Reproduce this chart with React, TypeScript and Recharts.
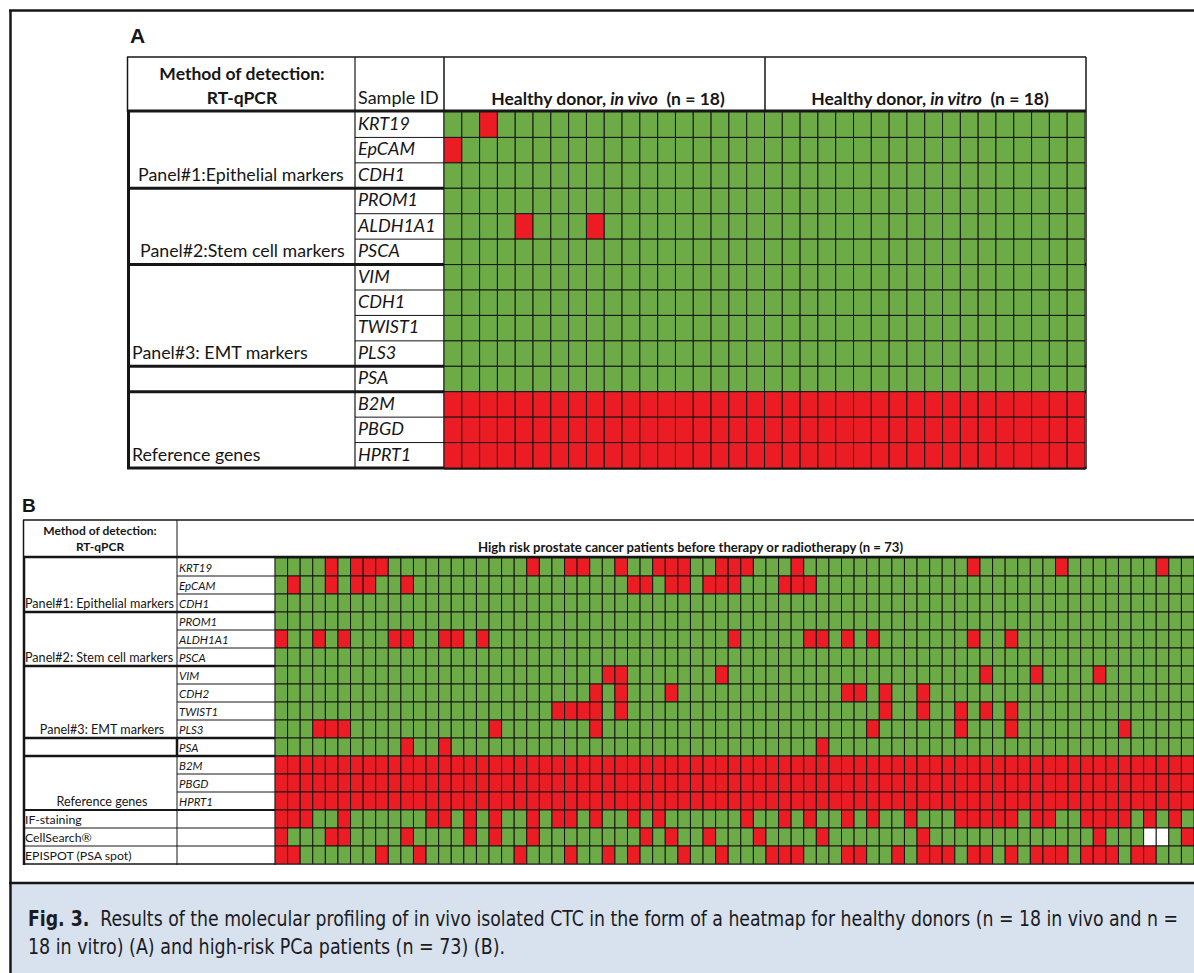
import React from 'react';
import { ReferenceLine, Scatter, ScatterChart, XAxis, YAxis } from 'recharts';

// ---- panel A: healthy donors (18 in vivo + 18 in vitro) ----
const donorsA = 36;
const genesA = ['KRT19', 'EpCAM', 'CDH1', 'PROM1', 'ALDH1A1', 'PSCA', 'VIM', 'CDH1', 'TWIST1', 'PLS3', 'PSA', 'B2M', 'PBGD', 'HPRT1'];
const groupsA = ['Panel#1:Epithelial markers', 'Panel#2:Stem cell markers', 'Panel#3: EMT markers', 'Reference genes'];
// positive (red) donors per gene row, 1-based; 'all' = every sample
const positivesA: (number[] | 'all')[] = [[3], [1], [], [], [5, 9], [], [], [], [], [], [], 'all', 'all', 'all'];

// ---- panel B: high risk PCa patients (n = 73) ----
const patientsB = 73;
const rowsB = ['KRT19', 'EpCAM', 'CDH1', 'PROM1', 'ALDH1A1', 'PSCA', 'VIM', 'CDH2', 'TWIST1', 'PLS3', 'PSA', 'B2M', 'PBGD', 'HPRT1'];
const methodsB = ['IF-staining', 'CellSearch®', 'EPISPOT (PSA spot)'];
const groupsB = ['Panel#1: Epithelial markers', 'Panel#2: Stem cell markers', 'Panel#3: EMT markers', 'Reference genes'];

const krt19B = [5, 7, 8, 9, 21, 24, 25, 28, 31, 32, 33, 36, 37, 38, 42, 56, 63, 71];
const epcamB = [2, 5, 7, 8, 11, 29, 30, 32, 33, 35, 36, 37, 41, 42, 43];
const cdh1B: number[] = [];
const prom1B: number[] = [];
const aldh1a1B = [1, 4, 6, 10, 11, 14, 15, 17, 37, 43, 44, 46, 48, 56, 59];
const pscaB: number[] = [];
const vimB = [27, 28, 36, 57, 61, 66];
const cdh2B = [26, 28, 32, 46, 47, 49, 52];
const twist1B = [23, 24, 25, 26, 28, 49, 52, 55, 57, 59];
const pls3B = [4, 5, 6, 18, 26, 48, 55, 59, 68];
const psaB = [11, 14, 44];
const ifStainingB = [1, 2, 3, 6, 13, 14, 16, 18, 21, 23, 24, 26, 29, 31, 38, 41, 43, 46, 48, 51, 55, 56, 57, 58, 59, 61, 62, 65, 66, 67, 68, 70, 72];
const cellSearchB = [1, 5, 6, 11, 16, 18, 21, 30, 32, 35, 39, 44, 52, 66, 73];
const cellSearchMissingB = [70, 71];
const epispotB = [1, 2, 9, 12, 20, 24, 27, 29, 33, 36, 40, 41, 42, 46, 47, 50, 52, 53, 54, 56, 57, 59, 61, 62, 63, 65, 66, 67, 69, 70];

const positivesB: (number[] | 'all')[] = [
  krt19B, epcamB, cdh1B, prom1B, aldh1a1B, pscaB, vimB, cdh2B, twist1B, pls3B, psaB,
  'all', 'all', 'all', ifStainingB, cellSearchB, epispotB,
];
const missingB: number[][] = [[], [], [], [], [], [], [], [], [], [], [], [], [], [], [], cellSearchMissingB, []];

const GREEN = '#6cab46';
const RED = '#ec1c24';
const INK = '#161616';
const FONT = 'Lato, "Open Sans", sans-serif';

type CellDatum = { x: number; y: number; v: number };

function buildCells(nCols: number, positives: (number[] | 'all')[], missing?: number[][]): CellDatum[] {
  const out: CellDatum[] = [];
  positives.forEach((row, r) => {
    for (let c = 1; c <= nCols; c++) {
      let v = row === 'all' || row.includes(c) ? 1 : 0;
      if (missing && missing[r].includes(c)) v = 2;
      out.push({ x: c - 0.5, y: r + 0.5, v });
    }
  });
  return out;
}

const cellsA = buildCells(donorsA, positivesA);
const cellsB = buildCells(patientsB, positivesB, missingB);

function Heatmap(props: {
  cells: CellDatum[]; cols: number; rows: number; width: number; height: number;
  thick: number[]; medium?: number[]; left: number; top: number;
}) {
  const { cells, cols, rows, width, height, thick, medium = [], left, top } = props;
  const cw = width / cols;
  const ch = height / rows;
  const m = 2;
  return (
    <div style={{ position: 'absolute', left: left - m, top: top - m }}>
      <ScatterChart width={width + 2 * m} height={height + 2 * m} margin={{ top: m, right: m, bottom: m, left: m }}>
        <XAxis type="number" dataKey="x" domain={[0, cols]} hide allowDataOverflow />
        <YAxis type="number" dataKey="y" domain={[0, rows]} reversed hide allowDataOverflow />
        <Scatter
          data={cells}
          isAnimationActive={false}
          shape={(p: any) => (
            <rect
              x={p.cx - cw / 2}
              y={p.cy - ch / 2}
              width={cw}
              height={ch}
              fill={p.payload.v === 1 ? RED : p.payload.v === 2 ? '#ffffff' : GREEN}
              stroke={INK}
              strokeWidth={1}
            />
          )}
        />
        {thick.map((t) => (
          <ReferenceLine key={'t' + t} y={t} stroke={INK} strokeWidth={3} />
        ))}
        {medium.map((t) => (
          <ReferenceLine key={'m' + t} y={t} stroke={INK} strokeWidth={2} />
        ))}
      </ScatterChart>
    </div>
  );
}

const ln = (x1: number, y1: number, x2: number, y2: number, w = 1) => (
  <line key={`${x1}-${y1}-${x2}-${y2}`} x1={x1} y1={y1} x2={x2} y2={y2} stroke={INK} strokeWidth={w} />
);

// table geometry
const A_TOP = 57, A_BOT = 469, A_L = 127, A_R = 1086, A_C1 = 355, A_C2 = 444, A_GRID_TOP = 112, A_GRID_H = 356;
const B_TOP = 520, B_BOT = 865, B_L = 23, B_R = 1196, B_C1 = 177, B_C2 = 275, B_GRID_TOP = 558, B_GRID_H = 306;
const rowA = (r: number) => A_GRID_TOP + (r * A_GRID_H) / genesA.length;
const rowB = (r: number) => B_GRID_TOP + (r * B_GRID_H) / (rowsB.length + methodsB.length);
const groupEndsA = [3, 6, 10, 11];
const groupEndsB = [3, 6, 10, 11];

function Frame() {
  const linesA: JSX.Element[] = [
    ln(A_L, A_TOP, A_R, A_TOP, 1.5), ln(A_L + 0.5, A_TOP, A_L + 0.5, A_GRID_TOP, 1.5),
    ln(A_R, A_TOP, A_R, A_BOT, 1.5), ln(A_L, A_GRID_TOP - 1, A_R, A_GRID_TOP - 1, 3),
    ln(A_L + 1.5, A_GRID_TOP, A_L + 1.5, A_BOT, 3), ln(A_L, A_BOT - 1, A_R, A_BOT - 1, 3),
    ln(A_C1, A_TOP, A_C1, A_BOT, 1.2), ln(A_C2, A_TOP, A_C2, A_BOT, 1.5), ln(765, A_TOP, 765, A_GRID_TOP, 1.5),
  ];
  for (let k = 1; k < genesA.length; k++) {
    if (groupEndsA.includes(k)) linesA.push(ln(A_L, rowA(k), A_R, rowA(k), 3));
    else linesA.push(ln(A_C1, rowA(k), A_C2, rowA(k), 1));
  }
  const nB = rowsB.length + methodsB.length;
  const linesB: JSX.Element[] = [
    ln(B_L, B_TOP, B_R, B_TOP, 1.5), ln(B_L + 0.5, B_TOP, B_L + 0.5, B_GRID_TOP, 1.5),
    ln(B_L + 1, B_GRID_TOP, B_L + 1, B_BOT, 2.5), ln(B_L, B_BOT - 1, B_R, B_BOT - 1, 1.5),
    ln(B_L, B_GRID_TOP - 1, B_R, B_GRID_TOP - 1, 2.5), ln(B_C1, B_TOP, B_C1, B_BOT, 1),
    ln(B_C2, B_GRID_TOP, B_C2, B_BOT, 1.2), ln(B_C1, rowB(10), B_C1, rowB(11), 2.5),
  ];
  for (let k = 1; k < nB; k++) {
    if (groupEndsB.includes(k)) linesB.push(ln(B_L, rowB(k), B_R, rowB(k), 2.5));
    else if (k === 14) linesB.push(ln(B_L, rowB(k), B_R, rowB(k), 1.8));
    else if (k > 14) linesB.push(ln(B_L, rowB(k), B_C2, rowB(k), 1));
    else linesB.push(ln(B_C1, rowB(k), B_C2, rowB(k), 1));
  }
  const groupRowA = [2, 5, 9, 13];
  const groupXA = [138, 140, 132, 132];
  const groupRowB = [2, 5, 9, 13];
  return (
    <svg width={1194} height={973} style={{ position: 'absolute', left: 0, top: 0 }}>
      <rect x={12} y={884} width={1182} height={89} fill="#d8e1ee" />
      {ln(9, 10.5, 1194, 10.5, 2.5)}
      {ln(10.5, 10, 10.5, 973, 2.5)}
      {ln(9, 883, 1194, 883, 2.5)}
      <text x={130} y={43} fontFamily='"Liberation Sans", Arial, sans-serif' fontWeight={700} fontSize={21} fill={INK}>A</text>
      <text x={22} y={512} fontFamily='"Liberation Sans", Arial, sans-serif' fontWeight={700} fontSize={19} fill={INK}>B</text>

      {linesA}
      <g fontFamily={FONT} fill={INK}>
        <text x={242} y={80} fontWeight={700} fontSize={17.5} textAnchor="middle">Method of detection:</text>
        <text x={242} y={104} fontWeight={700} fontSize={17.5} textAnchor="middle">RT-qPCR</text>
        <text x={358} y={104} fontSize={18}>Sample ID</text>
        <text x={608} y={105} fontWeight={700} fontSize={17.5} textAnchor="middle">
          Healthy donor, <tspan fontStyle="italic">in vivo</tspan>{'\u00a0 (n = 18)'}
        </text>
        <text x={930} y={105} fontWeight={700} fontSize={17.5} textAnchor="middle">
          Healthy donor, <tspan fontStyle="italic">in vitro</tspan>{'\u00a0 (n = 18)'}
        </text>
        {genesA.map((g, r) => (
          <text key={'ga' + r} x={358} y={rowA(r) + 18} fontSize={18} fontStyle="italic">{g}</text>
        ))}
        {groupsA.map((g, i) => (
          <text key={'gra' + i} x={groupXA[i]} y={rowA(groupRowA[i]) + 18} fontSize={17.8}>{g}</text>
        ))}
      </g>

      {linesB}
      <g fontFamily={FONT} fill={INK}>
        <text x={100} y={535} fontWeight={700} fontSize={12} textAnchor="middle">Method of detection:</text>
        <text x={100} y={551} fontWeight={700} fontSize={12} textAnchor="middle">RT-qPCR</text>
        <text x={478} y={552} fontWeight={700} fontSize={12.5} textLength={425} lengthAdjust="spacingAndGlyphs">
          High risk prostate cancer patients before therapy or radiotherapy (n = 73)
        </text>
        {rowsB.map((g, r) => (
          <text key={'gb' + r} x={179} y={rowB(r) + 13.5} fontSize={11.5} fontStyle="italic">{g}</text>
        ))}
        {methodsB.map((g, i) => (
          <text key={'mb' + i} x={25} y={rowB(rowsB.length + i) + 13.5} fontSize={12.3}>{g}</text>
        ))}
        {groupsB.map((g, i) => (
          <text
            key={'grb' + i}
            x={i < 2 ? 25 : 102}
            y={rowB(groupRowB[i]) + 13.5}
            fontSize={12.6}
            textAnchor={i < 2 ? 'start' : 'middle'}
          >
            {g}
          </text>
        ))}
      </g>

      <g
        fontFamily='"DejaVu Sans Condensed", "DejaVu Sans", sans-serif'
        fontStretch="condensed"
        fontSize={18.5}
        fill="#1b1b22"
      >
        <text transform="translate(28 926) scale(1 1.13)" x={0} y={0} textLength={1150} lengthAdjust="spacingAndGlyphs">
          <tspan fontWeight={700}>Fig. 3.</tspan>
          {'\u00a0\u00a0Results of the molecular profiling of in vivo isolated CTC in the form of a heatmap for healthy donors (n = 18 in vivo and n ='}
        </text>
        <text transform="translate(28 954) scale(1 1.13)" x={0} y={0} textLength={477} lengthAdjust="spacingAndGlyphs">
          18 in vitro) (A) and high-risk PCa patients (n = 73) (B).
        </text>
      </g>
    </svg>
  );
}

export default function App() {
  return (
    <div style={{ position: 'absolute', left: 0, top: 0, width: 1194, height: 973, overflow: 'hidden', background: '#fff' }}>
      <Frame />
      <Heatmap cells={cellsA} cols={donorsA} rows={genesA.length} width={641} height={A_GRID_H} left={A_C2} top={A_GRID_TOP} thick={[0, 3, 6, 10, 11, 14]} />
      <Heatmap
        cells={cellsB}
        cols={patientsB}
        rows={rowsB.length + methodsB.length}
        width={919}
        height={B_GRID_H}
        left={B_C2}
        top={B_GRID_TOP}
        thick={[0, 3, 6, 10, 11]}
        medium={[14]}
      />
    </div>
  );
}
